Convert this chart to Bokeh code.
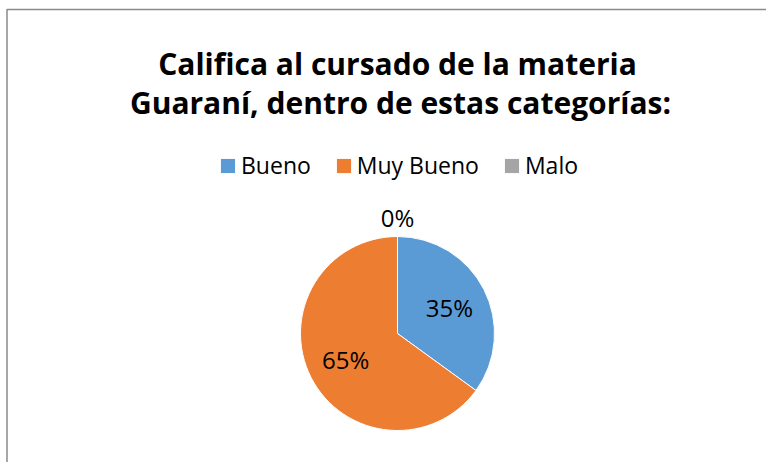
import math
from bokeh.plotting import figure
from bokeh.models import ColumnDataSource, Range1d, Legend, LegendItem
from bokeh.core.properties import value
from bokeh.embed import file_html
from bokeh.resources import INLINE

# data
categories = ["Bueno", "Muy Bueno", "Malo"]
values = [35, 65, 0]
colors = ["#5B9BD5", "#ED7D31", "#A5A5A5"]
title_lines = ["Califica al cursado de la materia", "Guaraní, dentro de estas categorías:"]

W, H = 766, 462
p = figure(width=W, height=H, output_backend="svg", toolbar_location=None,
           x_range=Range1d(0, W), y_range=Range1d(0, H), min_border=0)
p.axis.visible = False
p.grid.visible = False
p.outline_line_color = None
p.background_fill_color = "white"

# chart border (top and left visible)
p.line(x=[6.5, 6.5, W + 5], y=[-5, 453, 453], line_color="#8a8a8a", line_width=1.5)

cx, cy, R = 397, 129, 97
total = sum(values)
starts, ends, radii, lx, ly, labels = [], [], [], [], [], []
acc = 0.0
for v in values:
    a0 = math.pi / 2 - 2 * math.pi * acc / total
    acc += v
    a1 = math.pi / 2 - 2 * math.pi * acc / total
    starts.append(a1)
    ends.append(a0)
    radii.append(R if v > 0 else 0)
    mid = (a0 + a1) / 2
    rr = 0.6 * R if v > 0 else 1.2 * R
    lx.append(cx + rr * math.cos(mid))
    ly.append(cy + rr * math.sin(mid))
    labels.append(f"{round(100 * v / total)}%")

src = ColumnDataSource(dict(cat=categories, val=values, start=starts, end=ends, r=radii,
                            color=colors, lx=lx, ly=ly, label=labels))
wr = p.wedge(x=cx, y=cy, radius="r", start_angle="start", end_angle="end",
             fill_color="color", line_color="white", line_width=1, source=src)

p.text(x="lx", y="ly", text="label", source=src, text_align="center",
       text_baseline="middle", text_font=value("Open Sans"), text_font_size="24px",
       text_color="#000000")

# title
p.text(x=[397, 400], y=[399, 360], text=title_lines, text_align="center",
       text_baseline="alphabetic", text_font=value("Open Sans"), text_font_size="30px",
       text_font_style="bold", text_color="#000000")

items = [LegendItem(label=c, renderers=[wr], index=i) for i, c in enumerate(categories)]
legend = Legend(items=items, orientation="horizontal", location=(218, 281),
                label_text_font="Open Sans", label_text_font_size="23px",
                glyph_width=19, glyph_height=19, label_standoff=4, spacing=23,
                padding=0, margin=0, border_line_alpha=0, background_fill_alpha=0,
                label_text_color="#000000")
p.add_layout(legend, "center")

open("out.html", "w").write(file_html(p, INLINE))
